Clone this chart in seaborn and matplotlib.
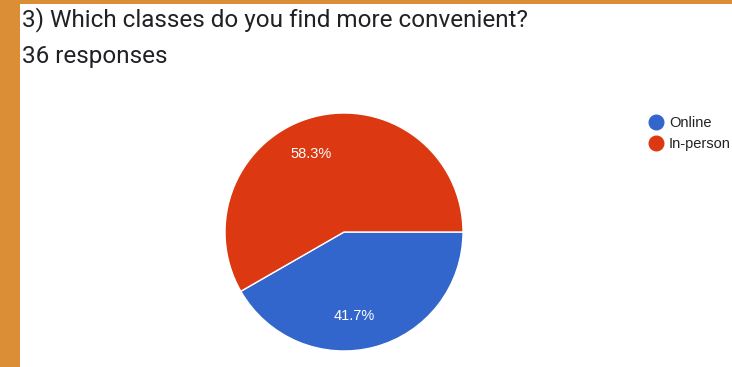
import matplotlib
matplotlib.use("Agg")
import numpy as np
import matplotlib.pyplot as plt
import seaborn as sns
from matplotlib.lines import Line2D
from matplotlib.patches import Rectangle

categories = ["Online", "In-person"]
values = [41.7, 58.3]
colors = ["#3366CC", "#DC3912"]
title = "3) Which classes do you find more convenient?"
subtitle = "36 responses"

sns.set_theme(style="white")
plt.rcParams['font.family'] = ['Roboto', 'DejaVu Sans']

W, H = 732, 367
fig = plt.figure(figsize=(W/100, H/100), dpi=100)
fig.patch.set_facecolor("#DC8E36")
# white content panel
fig.add_artist(Rectangle((20/W, 0), 1 - 20/W, (H - 4)/H, transform=fig.transFigure,
                         facecolor="white", edgecolor="none", zorder=0))

fig.text(22/W, 1 - 26/H, title, fontsize=17.5, color="#202124", va="baseline", ha="left")
fig.text(22/W, 1 - 63/H, subtitle, fontsize=17.5, color="#202124", va="baseline", ha="left")

cx, cy, r = 344, 232, 119
ax = fig.add_axes([(cx - r)/W, (H - cy - r)/H, 2*r/W, 2*r/H])
wedges, texts, autotexts = ax.pie(values, colors=colors, startangle=0, counterclock=False,
                                  autopct="%.1f%%", pctdistance=0.71,
                                  wedgeprops=dict(edgecolor="white", linewidth=1),
                                  textprops=dict(color="white", fontsize=10.5,
                                                 family=["Liberation Sans", "DejaVu Sans"]))
# Google-charts style label placement (nudged toward the left from the wedge middle)
for w, t in zip(wedges, autotexts):
    mid = (w.theta1 + w.theta2) / 2
    ang = np.deg2rad(mid + 8 * np.sign(np.sin(np.deg2rad(mid))))
    t.set_position((0.71 * np.cos(ang), 0.71 * np.sin(ang)))
ax.set_xlim(-1, 1)
ax.set_ylim(-1, 1)
ax.set_aspect("equal")
ax.axis("off")

handles = [Line2D([0], [0], marker="o", linestyle="none", markersize=10.5,
                  markerfacecolor=c, markeredgecolor=c) for c in colors]
fig.legend(handles, categories, loc="upper left", bbox_to_anchor=(639/W, 1 - 109/H),
           frameon=False, handletextpad=0.25, labelspacing=0.45,
           borderpad=0, handlelength=1.3, labelcolor="#222222",
           prop=dict(family=["Liberation Sans", "DejaVu Sans"], size=10.5))

fig.savefig("out.png", dpi=100)
